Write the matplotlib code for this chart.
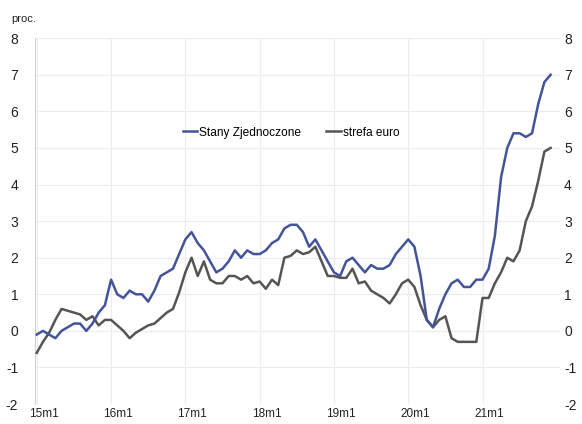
import matplotlib
matplotlib.use("Agg")
import matplotlib.pyplot as plt
import matplotlib.transforms as mtransforms
import numpy as np

plt.rcParams['font.family'] = ['Liberation Sans', 'DejaVu Sans']

series_us_label = "Stany Zjednoczone"
series_ea_label = "strefa euro"

us = [-0.1, 0.0, -0.1, -0.2, 0.0, 0.1, 0.2, 0.2, 0.0, 0.2, 0.5, 0.7,
      1.4, 1.0, 0.9, 1.1, 1.0, 1.0, 0.8, 1.1, 1.5, 1.6, 1.7, 2.1,
      2.5, 2.7, 2.4, 2.2, 1.9, 1.6, 1.7, 1.9, 2.2, 2.0, 2.2, 2.1,
      2.1, 2.2, 2.4, 2.5, 2.8, 2.9, 2.9, 2.7, 2.3, 2.5, 2.2, 1.9,
      1.6, 1.5, 1.9, 2.0, 1.8, 1.6, 1.8, 1.7, 1.7, 1.8, 2.1, 2.3,
      2.5, 2.3, 1.5, 0.3, 0.1, 0.6, 1.0, 1.3, 1.4, 1.2, 1.2, 1.4,
      1.4, 1.7, 2.6, 4.2, 5.0, 5.4, 5.4, 5.3, 5.4, 6.2, 6.8, 7.0]

ea = [-0.6, -0.3, -0.05, 0.3, 0.6, 0.55, 0.5, 0.45, 0.3, 0.4, 0.15, 0.3,
      0.3, 0.15, 0.0, -0.2, -0.05, 0.05, 0.15, 0.2, 0.35, 0.5, 0.6, 1.05,
      1.6, 2.0, 1.5, 1.9, 1.4, 1.3, 1.3, 1.5, 1.5, 1.4, 1.5, 1.3,
      1.35, 1.15, 1.4, 1.25, 2.0, 2.05, 2.2, 2.1, 2.15, 2.3, 1.9, 1.5,
      1.5, 1.45, 1.45, 1.7, 1.3, 1.35, 1.1, 1.0, 0.9, 0.75, 1.0, 1.3,
      1.4, 1.2, 0.7, 0.3, 0.1, 0.3, 0.4, -0.2, -0.3, -0.3, -0.3, -0.3,
      0.9, 0.9, 1.3, 1.6, 2.0, 1.9, 2.2, 3.0, 3.4, 4.1, 4.9, 5.0]

tick_labels = ["15m1", "16m1", "17m1", "18m1", "19m1", "20m1", "21m1"]
y_ticks = list(range(-2, 9))

x = np.arange(len(us))

fig = plt.figure(figsize=(5.82, 4.24), dpi=100)
ax = fig.add_axes([0.060, 0.047, 0.902, 0.863])

ax.plot(x, ea, color='#555555', lw=1.8, label=series_ea_label, zorder=3)
ax.plot(x, us, color='#44549a', lw=1.8, label=series_us_label, zorder=4)

ax.set_xlim(-0.3, 84.5)
ax.set_ylim(-2, 8)
ax.set_yticks(y_ticks)
ax.set_yticklabels([str(v) for v in y_ticks])
xt = list(range(0, len(us), 12))
ax.set_xticks(xt)
ax.set_xticklabels(tick_labels)

ax.grid(True, color='#ececec', lw=0.8)
ax.set_axisbelow(True)
for s in ['top', 'right', 'bottom']:
    ax.spines[s].set_visible(False)
ax.spines['left'].set_color('#d0d0d0')
ax.tick_params(axis='both', length=0, colors='#222222')
ax.tick_params(axis='y', labelsize=10, pad=12)
ax.tick_params(axis='x', labelsize=8.5, pad=3)

offset = mtransforms.ScaledTranslation(7 / 100, 0, fig.dpi_scale_trans)
for lab in ax.get_xticklabels():
    lab.set_transform(lab.get_transform() + offset)

ax2 = ax.twinx()
ax2.set_ylim(-2, 8)
ax2.set_yticks(y_ticks)
ax2.set_yticklabels([str(v) for v in y_ticks])
for s in ['top', 'right', 'bottom', 'left']:
    ax2.spines[s].set_visible(False)
ax2.tick_params(axis='y', length=0, labelsize=10, pad=3, colors='#222222')

fig.text(0.020, 0.955, "proc.", fontsize=8, color='#222222', va='center')

h1, l1 = ax.get_legend_handles_labels()
leg = ax.legend(h1[::-1], l1[::-1], loc='center', bbox_to_anchor=(0.488, 0.742),
                ncol=2, frameon=False, fontsize=8.6, handlelength=1.25,
                handletextpad=0.15, columnspacing=2.1)

fig.savefig("out.png", dpi=100)
